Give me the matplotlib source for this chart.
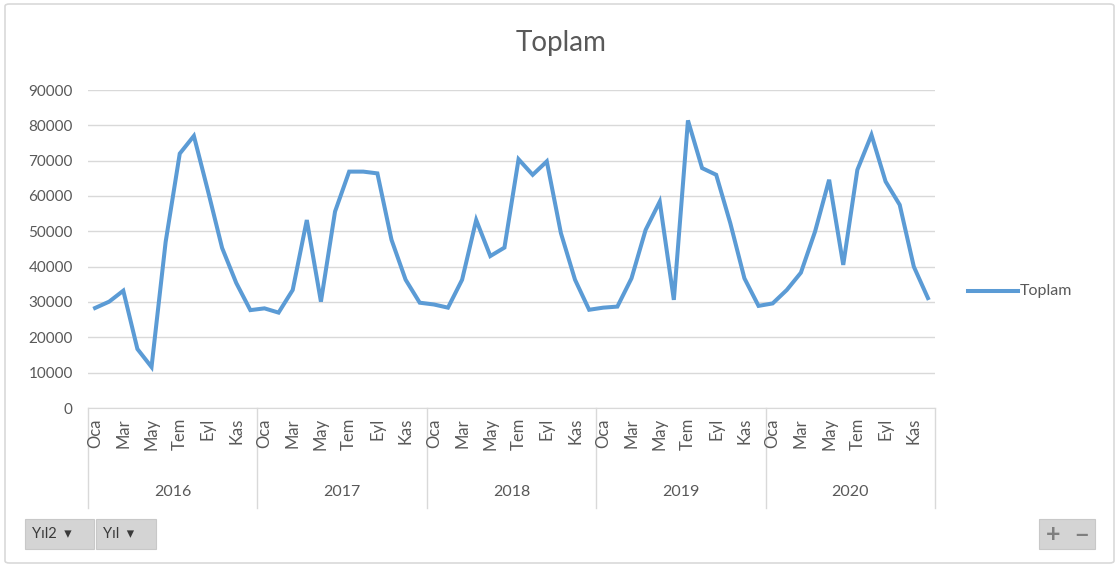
import numpy as np
import matplotlib
matplotlib.use("Agg")
import matplotlib.pyplot as plt
from matplotlib.patches import Rectangle, FancyBboxPatch
from matplotlib.lines import Line2D

plt.rcParams['font.family'] = ['Lato', 'DejaVu Sans']

years = ['2016', '2017', '2018', '2019', '2020']
months = ['Oca', 'Şub', 'Mar', 'Nis', 'May', 'Haz', 'Tem', 'Ağu', 'Eyl', 'Eki', 'Kas', 'Ara']

# monthly totals, one row per year
toplam_2016 = [28300, 30100, 33200, 16700, 11600, 47000, 72000, 77000, 61400, 45300, 35400, 27700]
toplam_2017 = [28200, 27000, 33400, 53200, 30100, 55600, 66900, 66900, 66400, 47600, 36300, 29800]
toplam_2018 = [29300, 28400, 36300, 53200, 43000, 45400, 70400, 66000, 69800, 49500, 36300, 27800]
toplam_2019 = [28400, 28700, 36700, 50400, 58400, 30600, 81400, 67900, 66000, 52300, 36700, 28900]
toplam_2020 = [29600, 33400, 38300, 49900, 64600, 40500, 67400, 77300, 64100, 57500, 40000, 31100]

toplam = toplam_2016 + toplam_2017 + toplam_2018 + toplam_2019 + toplam_2020

W, H = 1119, 567
fig = plt.figure(figsize=(W / 100, H / 100), dpi=100)
fig.patch.set_facecolor('white')

def fx(px):
    return px / W

def fy(py):
    return 1 - py / H

text_col = '#595959'
grid_col = '#d9d9d9'
line_col = '#5b9bd5'

# plot area in pixels: x 88..935, y 90..408
left, right, top, bottom = 88, 935, 90, 408
ax = fig.add_axes([fx(left), fy(bottom), fx(right - left), (bottom - top) / H])

x = np.arange(len(toplam))
ax.plot(x, toplam, color=line_col, lw=2.9, solid_joinstyle='miter', label='Toplam')

ax.set_xlim(-0.5, len(toplam) - 0.5)
ax.set_ylim(0, 90000)
ax.set_yticks(np.arange(0, 90001, 10000))
ax.set_yticklabels([str(v) for v in range(0, 90001, 10000)], fontsize=11, color=text_col)
ax.tick_params(axis='y', length=0, pad=11)
ax.set_xticks([])
ax.grid(axis='y', color=grid_col, lw=1)
ax.set_axisbelow(True)
for s in ['top', 'right', 'left']:
    ax.spines[s].set_visible(False)
ax.spines['bottom'].set_color(grid_col)

# two-level category axis: month labels (every other month) and years
axis_h = bottom - top
trans = ax.get_xaxis_transform()
for i in range(len(toplam)):
    if i % 2 == 0:
        ax.text(i, -(418 - bottom) / axis_h, months[i % 12], rotation=90,
                ha='center', va='top', fontsize=12, color=text_col, transform=trans)
for k, yr in enumerate(years):
    ax.text(k * 12 + 5.5, -(492 - bottom) / axis_h, yr, ha='center', va='center',
            fontsize=11.5, color=text_col, transform=trans)
for k in range(len(years) + 1):
    ax.plot([k * 12 - 0.5] * 2, [0, -(508 - bottom) / axis_h], color=grid_col, lw=1,
            transform=trans, clip_on=False)

fig.text(fx(561), fy(43), 'Toplam', ha='center', va='center', fontsize=20, color=text_col)

# legend
fig.add_artist(Line2D([fx(968), fx(1018)], [fy(291), fy(291)], color=line_col, lw=2.9))
fig.text(fx(1020), fy(291), 'Toplam', ha='left', va='center', fontsize=11.5, color=text_col)

# field buttons
for x0, x1, lab in [(25, 94, 'Yıl2  ▾'), (96, 156, 'Yıl  ▾')]:
    fig.add_artist(Rectangle((fx(x0), fy(549)), fx(x1 - x0), (549 - 519) / H,
                             facecolor='#d4d4d4', edgecolor='#c8c8c8', lw=0.8))
    fig.text(fx(x0 + 7), fy(534), lab, ha='left', va='center', fontsize=10.5, color='#3a3a3a')

fig.add_artist(Rectangle((fx(1039), fy(549)), fx(1095 - 1039), (549 - 519) / H,
                         facecolor='#d4d4d4', edgecolor='#c8c8c8', lw=0.8))
fig.text(fx(1053), fy(535), '+', ha='center', va='center', fontsize=18, color='#7f7f7f',
         fontweight='bold')
fig.text(fx(1081), fy(535), '−', ha='center', va='center', fontsize=18, color='#7f7f7f',
         fontweight='bold')

# chart border
fig.add_artist(FancyBboxPatch((fx(5), fy(563)), fx(1109), (563 - 4) / H,
                              boxstyle='round,pad=0,rounding_size=0.004',
                              facecolor='none', edgecolor='#d9d9d9', lw=1.2))

fig.savefig('out.png', dpi=100, facecolor='white')
